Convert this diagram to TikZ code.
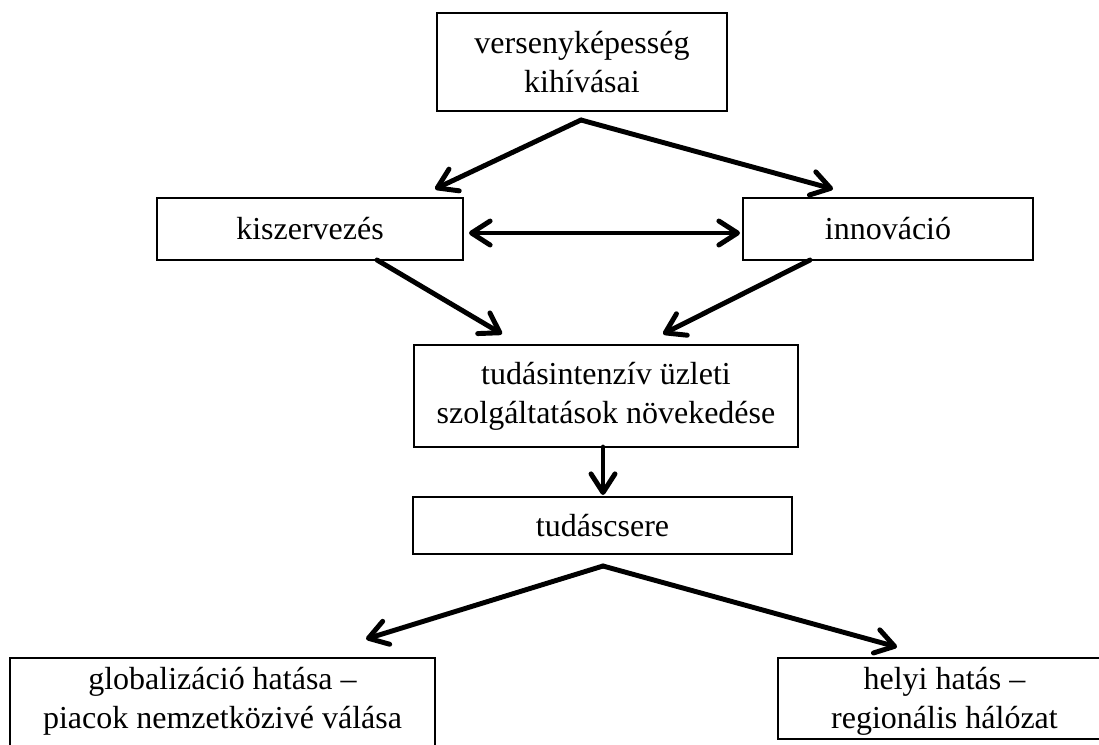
\documentclass[tikz,border=0pt]{standalone}
\usepackage{fontspec}
\setmainfont{Liberation Serif}
\usetikzlibrary{arrows.meta}
\begin{document}
\begin{tikzpicture}[x=0.75pt,y=-0.75pt,
  box/.style={draw,line width=1.3pt,inner sep=0pt,align=center,font=\fontsize{24}{29.25}\selectfont},
  txt/.style={inner sep=0pt,align=center,font=\fontsize{24}{29.25}\selectfont},
  tipb/.tip={Straight Barb[length=14pt,width=18pt,round]},
  arr/.style={line width=3.7pt,line cap=round,-tipb},
  darr/.style={line width=3.7pt,line cap=round,tipb-tipb}]
\useasboundingbox (0,0) rectangle (1099,744);
\clip (0,0) rectangle (1099,744);
% boxes
\node[box,minimum width=217.5pt,minimum height=73.5pt] (top) at (582,62) {versenyképesség\\kihívásai};
\node[box,minimum width=229.5pt,minimum height=46.5pt] (kisz) at (310,229) {kiszervezés};
\node[box,minimum width=217.5pt,minimum height=46.5pt] (innov) at (888,229) {innováció};
\node[box,minimum width=288pt,minimum height=76.5pt] (tudas) at (606,396) {tudásintenzív üzleti\\szolgáltatások növekedése};
\node[box,minimum width=284.25pt,minimum height=42.75pt] (csere) at (602.5,525.5) {tudáscsere};
\node[box,minimum width=318.75pt,minimum height=84pt] (glob) at (222.5,714) {};
\node[txt] (globt) at (222.5,701) {globalizáció hatása –\\piacok nemzetközivé válása};
\node[box,minimum width=333pt,minimum height=60.75pt] (helyi) at (1000,698.5) {};
\node[txt] (helyit) at (944.5,701) {helyi hatás –\\regionális hálózat};
% connector end points
\coordinate (topout) at (581,120);
\coordinate (kiszin) at (435,189);
\coordinate (innovin) at (833,189);
\coordinate (kiszr) at (469,233);
\coordinate (innovl) at (740,233);
\coordinate (kiszout) at (377,260);
\coordinate (innovout) at (810,260);
\coordinate (tudasinl) at (502,334);
\coordinate (tudasinr) at (663,334);
\coordinate (tudasout) at (603,447);
\coordinate (cserein) at (603,495);
\coordinate (cserout) at (603,566);
\coordinate (globin) at (366,639);
\coordinate (helyiin) at (897,647);
% connectors
\draw[arr] (topout) -- (kiszin);
\draw[arr] (topout) -- (innovin);
\draw[darr] (kiszr) -- (innovl);
\draw[arr] (kiszout) -- (tudasinl);
\draw[arr] (innovout) -- (tudasinr);
\draw[arr] (tudasout) -- (cserein);
\draw[arr] (cserout) -- (globin);
\draw[arr] (cserout) -- (helyiin);
\end{tikzpicture}
\end{document}
